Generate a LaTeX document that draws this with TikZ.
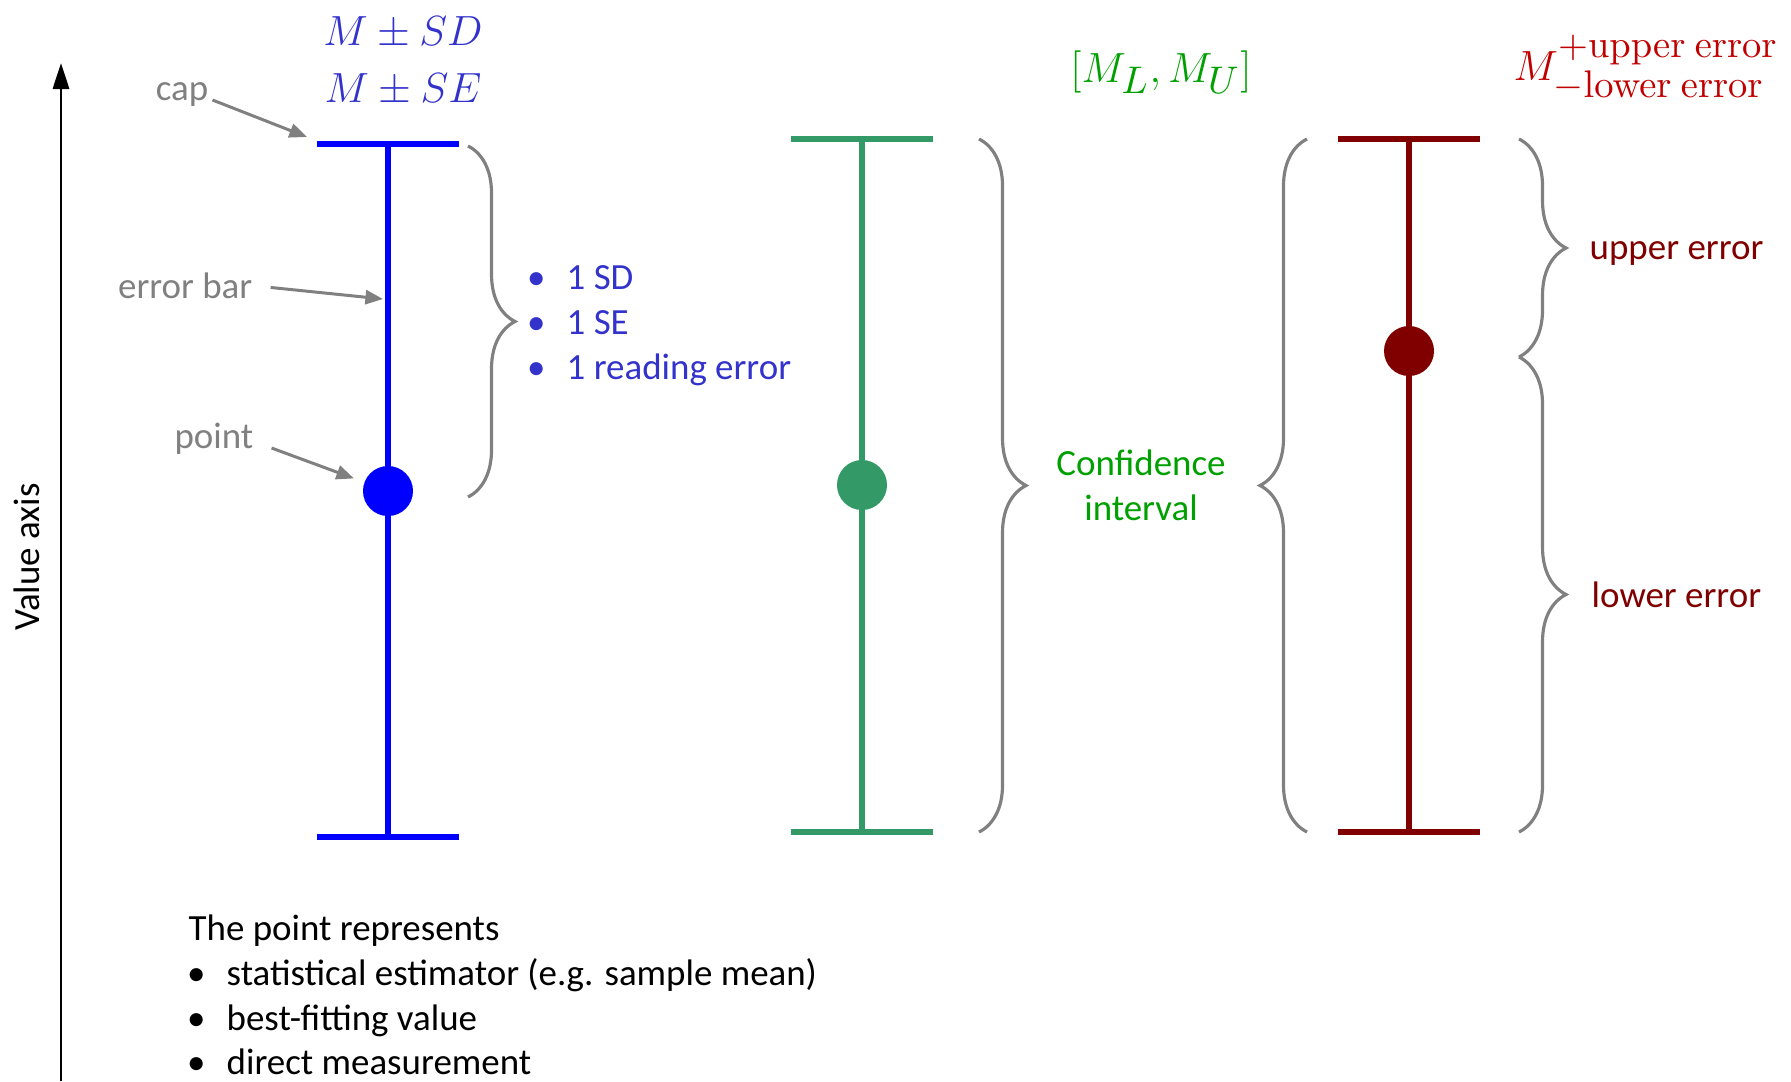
\documentclass[tikz,border=0pt]{standalone}
\usepackage[no-math]{fontspec}
\setmainfont{Carlito}
\usetikzlibrary{arrows.meta,decorations.pathreplacing}
\definecolor{barblue}{RGB}{0,0,255}
\definecolor{txtblue}{RGB}{51,51,204}
\definecolor{bargreen}{RGB}{51,153,102}
\definecolor{txtgreen}{RGB}{0,160,0}
\definecolor{barred}{RGB}{128,0,0}
\definecolor{txtred}{RGB}{192,0,0}
\definecolor{notegray}{RGB}{128,128,128}
\DeclareMathSizes{12}{12}{10.95}{7}
\newcommand{\ebBullet}{\llap{•\hspace{6pt}}}

\begin{document}
\begin{tikzpicture}[x=0.01cm,y=-0.01cm,
  font=\fontsize{10.5}{12.8}\selectfont,
  bar/.style={line width=1.7pt},
  dot/.style={circle,inner sep=0pt,minimum size=0.5cm},
  note/.style={text=notegray,inner sep=0pt},
  pointer/.style={notegray,line width=0.85pt,-{Triangle[length=5pt,width=4pt]}},
  brc/.style={notegray,line width=0.9pt,decorate,decoration={brace,amplitude=0.47cm}},
  mathlbl/.style={font=\fontsize{12}{15}\selectfont,inner sep=0pt,anchor=base},
  item/.style={anchor=base west,inner sep=0pt}]

\useasboundingbox (0,0) rectangle (1791,1081);

% value axis
\coordinate (axbot) at (61,1081);
\coordinate (axtop) at (61,63);
\draw[line width=0.8pt,-{Triangle[length=7.4pt,width=4.6pt]}] (axbot) -- (axtop);
\node[rotate=90] (axlbl) at (27,557) {Value axis};

% blue bar: M +- SD / SE
\coordinate (btop) at (388,144);
\coordinate (bbot) at (388,837);
\draw[bar,barblue] (btop) -- (bbot);
\draw[bar,barblue] (btop) ++(-71,0) -- ++(142,0);
\draw[bar,barblue] (bbot) ++(-71,0) -- ++(142,0);
\node[dot,fill=barblue] (bpt) at (388,491) {};
\node[mathlbl,text=txtblue] (msd) at (403,45) {$M \pm SD$};
\node[mathlbl,text=txtblue] (mse) at (403,102) {$M \pm SE$};
\draw[brc] (468,146) -- (468,497);
\node[item,text=txtblue] (bsd) at (566,289) {\ebBullet 1 SD};
\node[item,text=txtblue] (bse) at (566,334) {\ebBullet 1 SE};
\node[item,text=txtblue] (brd) at (566,379) {\ebBullet 1 reading error};

% parts of the bar
\coordinate (captip) at (307,137);
\coordinate (ebtip) at (383,299);
\node[note,anchor=base east] (caplbl) at (209,100) {cap};
\node[note,anchor=base east] (eblbl) at (253,298) {error bar};
\node[note,anchor=base east] (ptlbl) at (254,448) {point};
\draw[pointer] ([xshift=1pt]caplbl.base east) -- (captip);
\draw[pointer] ([xshift=5pt,yshift=3pt]eblbl.base east) -- (ebtip);
\draw[pointer,shorten >=3pt] ([xshift=5pt]ptlbl.base east) -- (bpt);

% green bar: confidence interval
\coordinate (gtop) at (862,139);
\coordinate (gbot) at (862,832);
\draw[bar,bargreen] (gtop) -- (gbot);
\draw[bar,bargreen] (gtop) ++(-71,0) -- ++(142,0);
\draw[bar,bargreen] (gbot) ++(-71,0) -- ++(142,0);
\node[dot,fill=bargreen] (gpt) at (862,485) {};
\node[mathlbl,text=txtgreen] (mlu) at (1161,82) {$[M_L, M_U]$};
\draw[brc] (979,139) -- (979,832);
\node[text=txtgreen,align=center,inner sep=0pt] (ci) at (1141,485) {Confidence\\interval};

% red bar: asymmetric errors
\coordinate (rtop) at (1409,139);
\coordinate (rbot) at (1409,832);
\draw[bar,barred] (rtop) -- (rbot);
\draw[bar,barred] (rtop) ++(-71,0) -- ++(142,0);
\draw[bar,barred] (rbot) ++(-71,0) -- ++(142,0);
\node[dot,fill=barred] (rpt) at (1409,351) {};
\node[mathlbl,anchor=base west,text=txtred] (mul) at (1513,80)
  {$M^{+\mathrm{upper\ error}}_{-\mathrm{lower\ error}}$};
\draw[brc] (1307,832) -- (1307,139);
\draw[brc] (1519,139) -- (1519,357);
\draw[brc] (1519,357) -- (1519,832);
\node[item,text=barred] (uerr) at (1589,259) {upper error};
\node[item,text=barred] (lerr) at (1591,607) {lower error};

% what the point stands for
\node[item] (prep) at (188,940) {The point represents};
\node[item] (pest) at (226,985) {\ebBullet statistical estimator (e.g. sample mean)};
\node[item] (pfit) at (226,1030) {\ebBullet best-fitting value};
\node[item] (pmes) at (226,1074) {\ebBullet direct measurement};
\end{tikzpicture}
\end{document}
